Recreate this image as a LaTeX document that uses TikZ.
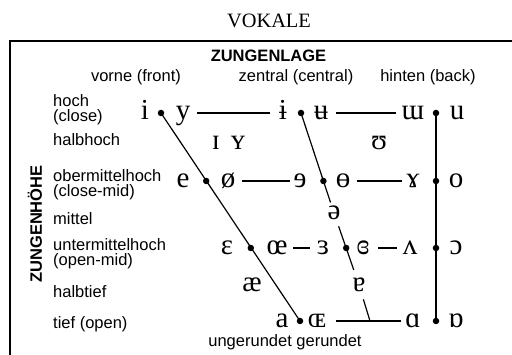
\documentclass[tikz,border=0pt]{standalone}
\usepackage{fontspec}
\setmainfont{Liberation Serif}
\newfontfamily\lsans{Liberation Sans}
\begin{document}
\begin{tikzpicture}[x=1pt,y=-1pt,
 ipa/.style={font=\fontsize{29}{29}\selectfont, text height=13.3pt, text depth=0pt, inner sep=0pt},
 lab/.style={font=\lsans\fontsize{16.5}{15}\selectfont, anchor=base west, inner sep=0pt},
 head/.style={font=\lsans\fontsize{16.5}{15}\selectfont, anchor=base, inner sep=0pt},
 bhead/.style={font=\lsans\bfseries\fontsize{16.5}{15}\selectfont, inner sep=0pt},
 title/.style={font=\fontsize{20.4}{20}\selectfont, anchor=base, inner sep=0pt},
 dot/.style={circle, fill, inner sep=0pt, minimum size=6.5pt},
 conn/.style={line width=1.2pt},
 frameline/.style={line width=2pt}]
\useasboundingbox (0,0) rectangle (512,355);
% frame
\coordinate (ftl) at (10,41.5);
\coordinate (ftr) at (512,41.5);
\coordinate (fbl) at (10,355);
\draw[frameline] (fbl) -- (ftl) -- (ftr);
% title and headers
\node[title] (ttl) at (269,28) {VOKALE};
\node[bhead, anchor=base] (zl) at (268.5,62) {ZUNGENLAGE};
\node[head] (hf) at (136,82) {vorne (front)};
\node[head] (hc) at (296,82) {zentral (central)};
\node[head] (hb) at (428,82) {hinten (back)};
\node[bhead, rotate=90] (zh) at (35,224) {ZUNGENHÖHE};
% row labels
\node[lab] (l1a) at (53,107) {hoch};
\node[lab] (l1b) at (53,122) {(close)};
\node[lab] (l2) at (53,146) {halbhoch};
\node[lab] (l3a) at (53,182) {obermittelhoch};
\node[lab] (l3b) at (53,197) {(close-mid)};
\node[lab] (l4) at (53,225) {mittel};
\node[lab] (l5a) at (53,251) {untermittelhoch};
\node[lab] (l5b) at (53,266) {(open-mid)};
\node[lab] (l6) at (53,298) {halbtief};
\node[lab] (l7) at (53,329) {tief (open)};
\node[head] (rnd) at (285,347) {ungerundet gerundet};
% vowels
\node[ipa] (vi) at (145,113) {i};
\node[ipa] (vy) at (183,113) {y};
\node[ipa] (vib) at (283,113) {ɨ};
\node[ipa] (vub) at (321,113) {ʉ};
\node[ipa] (vmw) at (413,113) {ɯ};
\node[ipa] (vu) at (457,113) {u};
\node[ipa] (vI) at (216,143) {ɪ};
\node[ipa] (vY) at (238,143) {ʏ};
\node[ipa] (vU) at (379,143) {ʊ};
\node[ipa] (ve) at (183,181) {e};
\node[ipa] (vslo) at (228,181) {ø};
\node[ipa] (vre) at (300,181) {ɘ};
\node[ipa] (vbo) at (343,181) {ɵ};
\node[ipa] (vga) at (413,181) {ɤ};
\node[ipa] (vo) at (456,181) {o};
\node[ipa] (vschwa) at (334,213) {ə};
\node[ipa] (veps) at (227,248) {ɛ};
\node[ipa] (voel) at (277,248) {œ};
\node[ipa] (vrev) at (323,248) {ɜ};
\node[ipa] (vcl) at (363,248) {ɞ};
\node[ipa] (vwedge) at (410,248) {ʌ};
\node[ipa] (vopo) at (456,248) {ɔ};
\node[ipa] (vae) at (252,285) {æ};
\node[ipa] (vturna) at (359,285) {ɐ};
\node[ipa] (va) at (282,321) {a};
\node[ipa] (voeL) at (317,321) {ɶ};
\node[ipa] (valpha) at (413,321) {ɑ};
\node[ipa] (vtalpha) at (456,321) {ɒ};
% dots
\node[dot] (df1) at (161,113) {};
\node[dot] (df3) at (206.2,181) {};
\node[dot] (df5) at (250.8,248) {};
\node[dot] (df7) at (300,321) {};
\node[dot] (dc1) at (301,113) {};
\node[dot] (dc3) at (323.4,181) {};
\node[dot] (dc5) at (346.2,248) {};
\node[dot] (db1) at (436,113) {};
\node[dot] (db3) at (436,181) {};
\node[dot] (db5) at (436,248) {};
\node[dot] (db7) at (436,321) {};
\coordinate (jn) at (370,321);
% connectors
\draw[conn] (df1.center) -- (df7.center);
\draw[conn] (db1.center) -- (db7.center);
\draw[conn, shorten >=11pt] (dc1.center) -- (vschwa.center);
\draw[conn, shorten <=14pt, shorten >=16pt] (vschwa.center) -- (vturna.center);
\draw[conn, shorten <=15pt] (vturna.center) -- (jn);
\draw[conn, shorten <=14pt, shorten >=13pt] (vy.center) -- (vib.center);
\draw[conn, shorten <=15pt, shorten >=17pt] (vub.center) -- (vmw.center);
\draw[conn, shorten <=14pt, shorten >=10pt] (vslo.center) -- (vre.center);
\draw[conn, shorten <=14pt, shorten >=11pt] (vbo.center) -- (vga.center);
\draw[conn, shorten <=16pt, shorten >=13pt] (voel.center) -- (vrev.center);
\draw[conn, shorten <=15pt, shorten >=13pt] (vcl.center) -- (vwedge.center);
\draw[conn, shorten <=19pt, shorten >=12pt] (voeL.center) -- (valpha.center);
\end{tikzpicture}
\end{document}
